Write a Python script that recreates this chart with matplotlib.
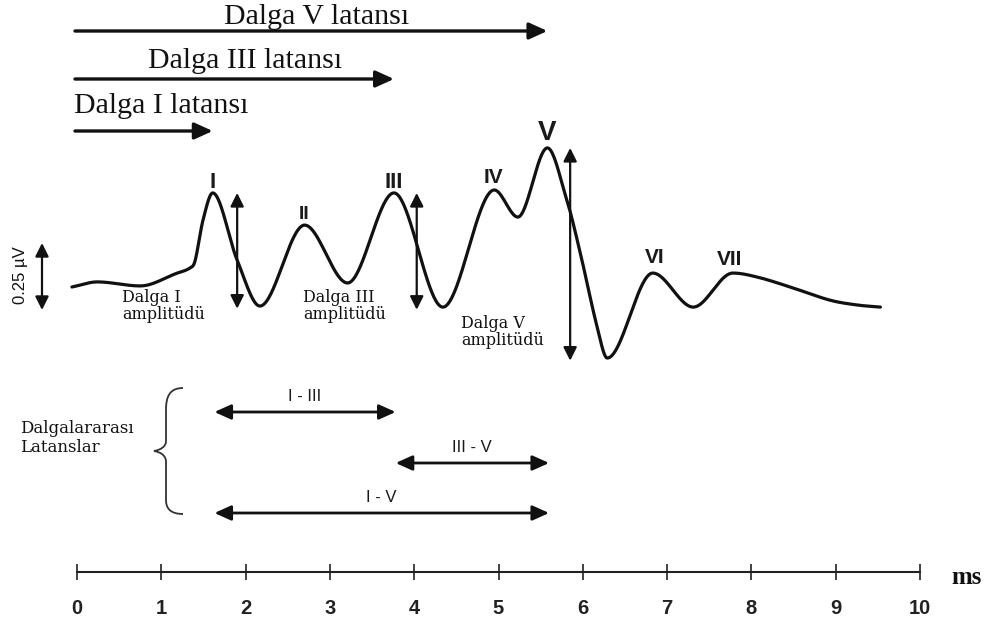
import numpy as np
import matplotlib
matplotlib.use("Agg")
import matplotlib.pyplot as plt
from matplotlib.path import Path
from matplotlib.patches import PathPatch

# ---- waveform (latency in ms, amplitude in microvolts) ----
wave_t = [-0.06, 0.24, 0.75, 1.19, 1.34, 1.40, 1.495, 1.61, 1.90, 2.17, 2.70, 3.21,
          3.76, 4.34, 4.95, 5.23, 5.58, 5.81, 5.97, 6.17, 6.29, 6.83, 7.31, 7.78,
          8.07, 8.46, 8.93, 9.25, 9.53]
wave_uv = [0.0, 0.019, 0.004, 0.052, 0.071, 0.097, 0.25, 0.351, 0.10, -0.071, 0.231, 0.015,
           0.351, -0.075, 0.362, 0.261, 0.519, 0.325, 0.127, -0.149, -0.265, 0.052, -0.075,
           0.052, 0.037, 0.0, -0.049, -0.067, -0.075]

# peaks I..VII (indices into the waveform)
peak_names = ["I", "II", "III", "IV", "V", "VI", "VII"]
peak_idx = [7, 10, 12, 14, 16, 21, 23]
peak_fs = [16, 14, 16, 15, 20, 15, 15]
peak_dx = [0, 0, 0, -1, 0, 2, -3]        # label shift, px
peak_gap = [5, 6, 5, 7, 8, 10, 8]        # gap above peak, px

# amplitude measurements: (peak index, trough index, arrow position in ms)
amp_names = ["Dalga I\namplitüdü", "Dalga III\namplitüdü", "Dalga V\namplitüdü"]
amp_peak = [7, 12, 16]
amp_trough = [9, 13, 20]
amp_x = [1.90, 4.03, 5.85]

# absolute latencies
lat_names = ["Dalga V latansı", "Dalga III latansı", "Dalga I latansı"]
lat_peak = [16, 12, 7]

# interpeak latencies
ipl_names = ["I - III", "III - V", "I - V"]
ipl_from = [7, 12, 7]
ipl_to = [12, 16, 16]

# time axis
ticks_ms = list(range(0, 11))

# ---- layout helpers (pixel grid -> data units) ----
W, H = 992, 631
X0, PX_MS = 77.0, 84.3
Y0, PX_UV = 287.0, 268.0


def at(px, py):
    return (px - X0) / PX_MS, (Y0 - py) / PX_UV


def smooth_curve(x, y, xn):
    """Cubic Hermite through the points: flat at local extrema,
    central-difference slopes elsewhere."""
    x = np.asarray(x, float)
    y = np.asarray(y, float)
    h = np.diff(x)
    d = np.diff(y) / h
    m = np.zeros_like(y)
    for k in range(1, len(x) - 1):
        if d[k - 1] * d[k] > 0:
            m[k] = (y[k + 1] - y[k - 1]) / (x[k + 1] - x[k - 1])
    m[0], m[-1] = d[0], d[-1]
    i = np.clip(np.searchsorted(x, xn) - 1, 0, len(x) - 2)
    t = (xn - x[i]) / h[i]
    h00 = 2 * t**3 - 3 * t**2 + 1
    h10 = t**3 - 2 * t**2 + t
    h01 = -2 * t**3 + 3 * t**2
    h11 = t**3 - t**2
    return h00 * y[i] + h10 * h[i] * m[i] + h01 * y[i + 1] + h11 * h[i] * m[i + 1]


SERIF = ["Liberation Serif", "DejaVu Serif"]
SLAB = ["DejaVu Serif"]
SANS = ["Liberation Sans", "DejaVu Sans"]
INK = "#111111"

fig = plt.figure(figsize=(W / 100, H / 100), dpi=100)
ax = fig.add_axes([0, 0, 1, 1])
ax.set_xlim(at(0, 0)[0], at(W, 0)[0])
ax.set_ylim(at(0, H)[1], at(0, 0)[1])
ax.axis("off")


def arrow(p0, p1, style="-|>", lw=2.2, hl=1.0, hw=0.45):
    ax.annotate("", xy=p1, xytext=p0,
                arrowprops=dict(arrowstyle=f"{style},head_length={hl},head_width={hw}",
                                lw=lw, color=INK, shrinkA=0, shrinkB=0))


# waveform
tt = np.linspace(wave_t[0], wave_t[-1], 2000)
ax.plot(tt, smooth_curve(wave_t, wave_uv, tt), color=INK, lw=2.3,
        solid_capstyle="round", solid_joinstyle="round")

# peak labels
for name, i, fs, dx, gap in zip(peak_names, peak_idx, peak_fs, peak_dx, peak_gap):
    ax.annotate(name, (wave_t[i], wave_uv[i]), xytext=(dx * 0.72, gap * 0.72),
                textcoords="offset points", ha="center", va="baseline",
                fontsize=fs, fontweight="bold", family=SANS, color="#1a1a1a")

# amplitude arrows and labels
amp_label_px = [(122, 306), (303, 306), (461, 332)]
for name, ip, it, x, (lx, ly) in zip(amp_names, amp_peak, amp_trough, amp_x, amp_label_px):
    arrow((x, wave_uv[it] - 0.01), (x, wave_uv[ip]), style="<|-|>", lw=1.6, hl=0.8, hw=0.4)
    ax.text(*at(lx, ly), name, fontsize=11.5, family=SLAB, color=INK,
            ha="left", va="center", linespacing=1.05)

# scale bar 0.25 microvolt
sb_x, sb_top = at(42, 243)
arrow((sb_x, sb_top - 0.25), (sb_x, sb_top), style="<|-|>", lw=1.6, hl=0.8, hw=0.4)
ax.text(*at(20, 275), "0.25 µV", rotation=90, fontsize=12, family=SANS,
        color=INK, ha="center", va="center")

# absolute latency arrows
lat_arrow_py = [31, 79, 131]
lat_text_px = [(317, 17), (245, 61), (161, 106)]
for name, ip, apy, (tx, ty) in zip(lat_names, lat_peak, lat_arrow_py, lat_text_px):
    y = at(0, apy)[1]
    arrow((at(75, 0)[0], y), (wave_t[ip], y), lw=2.4, hl=1.1, hw=0.5)
    ax.text(*at(tx, ty), name, fontsize=21.5, family=SERIF, color=INK,
            ha="center", va="center")

# interpeak latency arrows
ipl_py = [412, 463, 513]
for name, i0, i1, py in zip(ipl_names, ipl_from, ipl_to, ipl_py):
    y = at(0, py)[1]
    x0, x1 = wave_t[i0] + 0.02, wave_t[i1] + 0.02
    arrow((x0, y), (x1, y), style="<|-|>", lw=2.0, hl=1.0, hw=0.45)
    ax.annotate(name, ((x0 + x1) / 2, y), xytext=(0, 6), textcoords="offset points",
                ha="center", va="bottom", fontsize=12, family=SANS, color="#1a1a1a")

# brace grouping the interpeak latencies
bp = [(183, 388), (170, 388), (166, 396), (166, 410),
      (166, 425), (166, 437), (166, 441),
      (166, 447), (160, 450), (154, 451),
      (160, 452), (166, 455), (166, 462),
      (166, 470), (166, 490), (166, 500),
      (166, 508), (170, 514), (183, 514)]
codes = [Path.MOVETO] + [Path.CURVE4] * 18
ax.add_patch(PathPatch(Path([at(*p) for p in bp], codes), fill=False,
                       lw=1.3, edgecolor="#333333"))
ax.text(*at(20, 438), "Dalgalararası\nLatanslar", fontsize=12, family=SLAB,
        color=INK, ha="left", va="center", linespacing=1.15)

# time axis
axis_y = 1 - 572 / H
tax = fig.add_axes([X0 / W, axis_y, 10 * PX_MS / W, 0.0001])
tax.set_xlim(0, 10)
tax.set_ylim(0, 1)
tax.patch.set_visible(False)
for s in ("top", "left", "right"):
    tax.spines[s].set_visible(False)
tax.spines["bottom"].set_linewidth(1.5)
tax.spines["bottom"].set_color("#222222")
tax.set_yticks([])
tax.set_xticks(ticks_ms)
tax.set_xticklabels([str(t) for t in ticks_ms], family=SANS, fontsize=14.5,
                    fontweight="bold")
tax.tick_params(axis="x", direction="inout", length=11, width=1.2,
                colors="#222222", pad=14)
fig.text(951 / W, 1 - 578 / H, "ms", fontsize=18, fontweight="bold",
         family=SERIF, ha="left", va="center", color=INK)

fig.savefig("out.png", dpi=100)
